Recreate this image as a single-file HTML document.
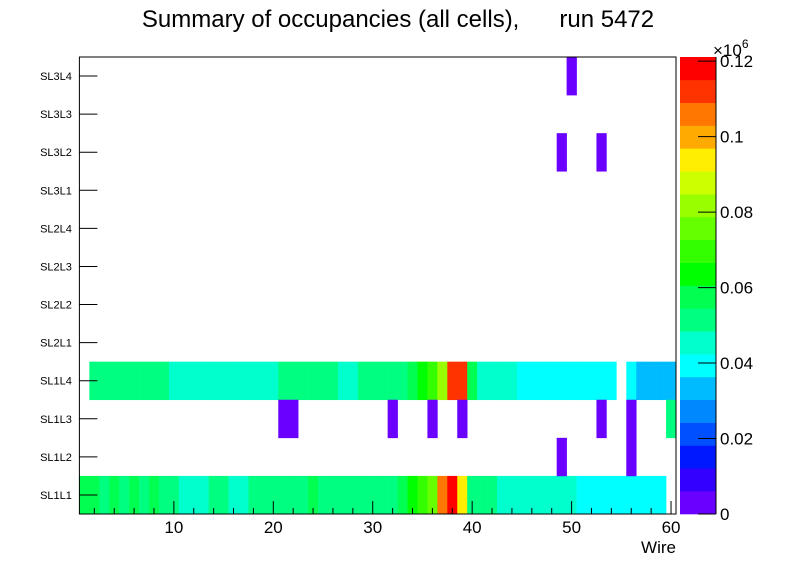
<!DOCTYPE html>
<html><head><meta charset="utf-8"><style>
body{margin:0;background:#fff;font-family:"Liberation Sans",sans-serif}
svg text{font-family:"Liberation Sans",sans-serif}
</style></head><body>
<svg id="c" width="796" height="572" xmlns="http://www.w3.org/2000/svg">
<text x="398" y="27" font-size="24" text-anchor="middle" style="white-space:pre">Summary of occupancies (all cells),&#160;&#160;&#160;&#160;&#160;&#160;run 5472</text>
<text x="676" y="553" font-size="17" text-anchor="end">Wire</text>
<text x="713" y="56" font-size="17">×10<tspan dy="-8" font-size="12">6</tspan></text>
<g id="cells"></g>
<g id="axes"></g>
<g id="cbar"></g>
</svg>
<script>
const rowLabels=["SL1L1","SL1L2","SL1L3","SL1L4","SL2L1","SL2L2","SL2L3","SL2L4","SL3L1","SL3L2","SL3L3","SL3L4"];
const L=l=>(l+0.5)*0.00605;
const rowSL1L1=[9,9,8,9,8,9,8,9,8,8,7,7,7,8,8,7,7,8,8,8,8,8,8,9,8,8,8,8,8,8,8,8,9,10,11,12,17,19,15,8,8,8,7,7,7,7,7,7,7,7,6,6,6,6,6,6,6,6,6,-1];
const rowSL1L4=[-1,8,8,8,8,8,8,8,8,7,7,7,7,7,7,7,7,7,7,7,8,8,8,8,8,8,7,7,8,8,8,8,8,9,10,11,13,18,18,9,7,7,7,7,6,6,6,6,6,6,6,6,6,6,-1,6,5,5,5,5];
const sparse=[[2,21,0],[2,22,0],[2,32,0],[2,36,0],[2,39,0],[2,53,0],[2,56,0],[2,60,8],[1,49,0],[1,56,0],[11,50,0],[9,49,0],[9,53,0]];
const colorTicks=[0,0.02,0.04,0.06,0.08,0.1,0.12];
const palette=["#6a00ff","#3300ff","#0018ff","#0050ff","#0088ff","#00bbff","#00ffff","#00ffcc","#00ff80","#00ff50","#00ff00","#33ff00","#66ff00","#99ff00","#ccff00","#ffee00","#ffaa00","#ff7700","#ff3300","#ff0000"];
const xTicks=[10,20,30,40,50,60];
const X0=79.4,X1=676,Y0=514,Y1=57,xmin=0.5,xmax=60.5,zmax=0.1211;
const xs=w=>X0+(w-xmin)*(X1-X0)/(xmax-xmin);
const rh=(Y0-Y1)/12;
const ys=r=>Y0-(r+1)*rh;
const zc=v=>palette[Math.min(19,Math.floor(v/zmax*20))];
const NS="http://www.w3.org/2000/svg";
function mk(t,a,p){const e=document.createElementNS(NS,t);for(const k in a)e.setAttribute(k,a[k]);p.appendChild(e);return e;}
const cells=document.getElementById('cells');
const data=[];
rowSL1L1.forEach((l,i)=>{if(l>=0)data.push([0,i+1,L(l)]);});
rowSL1L4.forEach((l,i)=>{if(l>=0)data.push([3,i+1,L(l)]);});
sparse.forEach(s=>data.push([s[0],s[1],L(s[2])]));
data.forEach(d=>{
 const r=mk('rect',{x:xs(d[1]-0.5),y:ys(d[0]),width:xs(d[1]+0.5)-xs(d[1]-0.5)+0.3,height:rh+0.3,fill:zc(d[2])},cells);
 
 
});
const ax=document.getElementById('axes');
mk('rect',{x:X0,y:Y1,width:X1-X0,height:Y0-Y1,fill:'none',stroke:'#000','stroke-width':1},ax);
rowLabels.forEach((s,i)=>{
 const yc=ys(i)+rh/2;
 mk('line',{x1:X0,x2:X0+18,y1:yc,y2:yc,stroke:'#000'},ax);
 const t=mk('text',{x:56,y:yc+4,'font-size':11,'text-anchor':'middle'},ax);t.textContent=s;
 
 
});
for(let w=2;w<=60;w+=2){
 const maj=w%10===0;
 mk('line',{x1:xs(w),x2:xs(w),y1:Y0,y2:Y0-(maj?13:6),stroke:'#000'},ax);
}
xTicks.forEach(w=>{
 const t=mk('text',{x:xs(w),y:533,'font-size':17,'text-anchor':'middle'},ax);t.textContent=w;
 
 
});
const cb=document.getElementById('cbar');
const CX0=680,CX1=716,cs=v=>Y0-v/zmax*(Y0-Y1);
palette.forEach((c,i)=>{
 mk('rect',{x:CX0,y:cs((i+1)*zmax/20),width:CX1-CX0,height:(Y0-Y1)/20+0.3,fill:c},cb);
});
mk('line',{x1:CX1,x2:CX1,y1:Y1,y2:Y0,stroke:'#000'},cb);
colorTicks.forEach(v=>{
 const y=cs(v);
 mk('line',{x1:CX1-18,x2:CX1,y1:y,y2:y,stroke:'#000'},cb);
 const t=mk('text',{x:720,y:y+6,'font-size':17},cb);t.textContent=v;
 
 
});
</script>
</body></html>
